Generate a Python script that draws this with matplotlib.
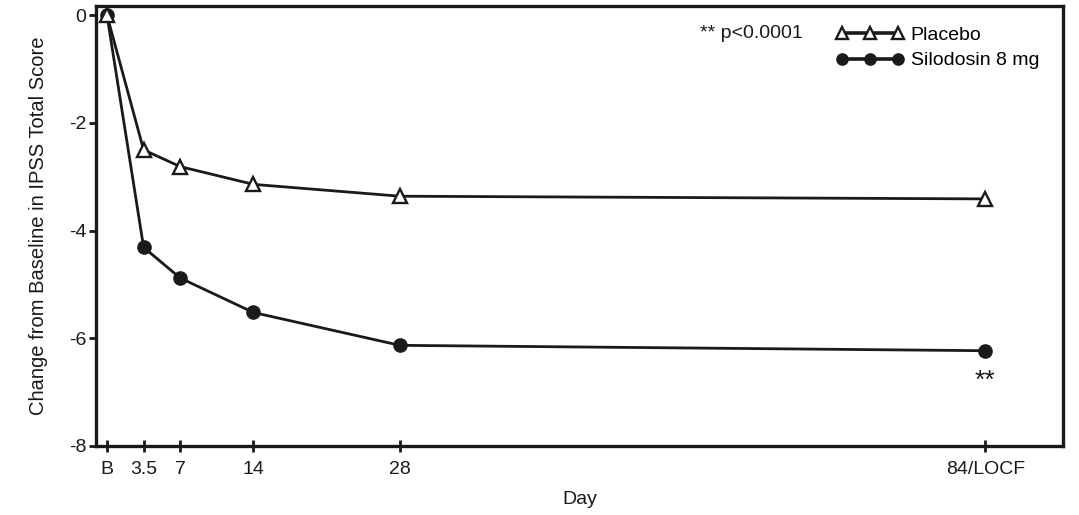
import matplotlib
matplotlib.use("Agg")
import matplotlib.pyplot as plt

days = [0, 3.5, 7, 14, 28, 84]
tick_labels = ["B", "3.5", "7", "14", "28", "84/LOCF"]
placebo = [0, -2.5, -2.81, -3.14, -3.36, -3.41]
silodosin = [0, -4.31, -4.88, -5.52, -6.13, -6.23]
yticks = [0, -2, -4, -6, -8]

plt.rcParams["font.family"] = ["Liberation Sans Narrow", "Liberation Sans", "DejaVu Sans"]

fig = plt.figure(figsize=(10.79, 5.15), dpi=100)
ax = fig.add_axes([0.089, 0.134, 0.896, 0.854])

ax.plot(days, placebo, color="#1a1a1a", lw=2.0, marker="^", ms=10, mfc="white",
        mec="#1a1a1a", mew=1.7, label="Placebo", zorder=3)
ax.plot(days, silodosin, color="#1a1a1a", lw=2.0, marker="o", ms=9.5, mfc="#1a1a1a",
        mec="#1a1a1a", label="Silodosin 8 mg", zorder=2)

ax.annotate("**", (days[-1], silodosin[-1]), xytext=(0, -22), textcoords="offset points",
            ha="center", va="center", fontsize=19, color="#1a1a1a")
ax.text(0.625, 0.937, "** p<0.0001", transform=ax.transAxes, ha="left", va="center",
        fontsize=14, color="#1a1a1a")

leg = ax.legend(loc="upper left", bbox_to_anchor=(0.751, 0.985), numpoints=3, handlelength=3.5,
                frameon=False, fontsize=14, handletextpad=0.35, labelspacing=0.4,
                borderaxespad=0.3, markerscale=0.85)
for h in leg.legend_handles:
    h.set_linewidth(2.6)

ax.set_xlim(-1.05, 91.4)
ax.set_ylim(-8, 0.17)
ax.set_xticks(days)
ax.set_xticklabels(tick_labels)
ax.set_yticks(yticks)
ax.set_yticklabels([str(v) for v in yticks])
ax.tick_params(axis="x", direction="inout", length=8, width=2, labelsize=14, pad=7, colors="#1a1a1a")
ax.tick_params(axis="y", direction="out", length=5, width=2, labelsize=14, pad=2, colors="#1a1a1a")
for s in ax.spines.values():
    s.set_linewidth(2.4)
    s.set_color("#1a1a1a")

ax.set_xlabel("Day", fontsize=14, color="#1a1a1a", labelpad=9)
ax.set_ylabel("Change from Baseline in IPSS Total Score", fontsize=14.5, color="#1a1a1a", labelpad=15)

fig.savefig("out.png", dpi=100)
